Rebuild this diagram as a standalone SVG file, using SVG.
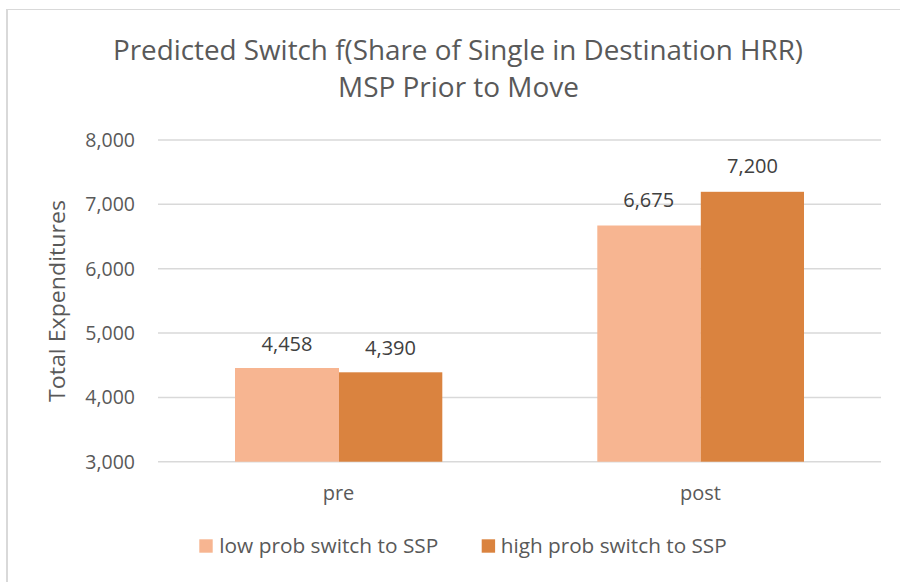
<svg xmlns="http://www.w3.org/2000/svg" width="900" height="582" viewBox="0 0 900 582">
  <style>
    text { font-family: "Open Sans", "Noto Sans", "Liberation Sans", sans-serif; fill: #595959; }
    .title { font-size: 27px; text-anchor: middle; }
    .tick { font-size: 19.5px; text-anchor: end; }
    .cat { font-size: 20px; text-anchor: middle; }
    .val { font-size: 20px; text-anchor: middle; fill: #404040; }
    .leg { font-size: 20px; }
    .grid { stroke: #D9D9D9; stroke-width: 1.5; }
    .low { fill: #F7B591; }
    .high { fill: #DA833F; }
  </style>

  <rect width="900" height="582" fill="#FFFFFF"/>
  <!-- chart frame (left and top edges) -->
  <line x1="7" y1="9.5" x2="900" y2="9.5" stroke="#D9D9D9" stroke-width="1.2"/>
  <line x1="7" y1="9" x2="7" y2="582" stroke="#D9D9D9" stroke-width="2"/>

  <!-- title -->
  <g id="title">
    <text class="title" x="458" y="60" textLength="690" lengthAdjust="spacingAndGlyphs">Predicted Switch f(Share of Single in Destination HRR)</text>
    <text class="title" x="458.5" y="97" textLength="241" lengthAdjust="spacingAndGlyphs">MSP Prior to Move</text>
  </g>

  <!-- gridlines -->
  <g id="gridlines">
    <line class="grid" x1="158" y1="140" x2="881" y2="140"/>
    <line class="grid" x1="158" y1="204.3" x2="881" y2="204.3"/>
    <line class="grid" x1="158" y1="268.7" x2="881" y2="268.7"/>
    <line class="grid" x1="158" y1="333" x2="881" y2="333"/>
    <line class="grid" x1="158" y1="397.4" x2="881" y2="397.4"/>
    <line class="grid" x1="158" y1="461.7" x2="881" y2="461.7"/>
  </g>

  <!-- value axis -->
  <g id="value-axis">
    <text class="tick" x="135" y="147">8,000</text>
    <text class="tick" x="135" y="211.3">7,000</text>
    <text class="tick" x="135" y="275.7">6,000</text>
    <text class="tick" x="135" y="340">5,000</text>
    <text class="tick" x="135" y="404.4">4,000</text>
    <text class="tick" x="135" y="468.7">3,000</text>
    <text x="65" y="301" font-size="21" text-anchor="middle" transform="rotate(-90 65 301)" textLength="202" lengthAdjust="spacingAndGlyphs">Total Expenditures</text>
  </g>

  <!-- bars -->
  <g id="bar-pre-low">
    <rect class="low" x="235" y="368" width="104" height="93.7"/>
    <text class="val" x="287" y="350.5">4,458</text>
  </g>
  <g id="bar-pre-high">
    <rect class="high" x="339" y="372.3" width="103.3" height="89.4"/>
    <text class="val" x="390.5" y="354.5">4,390</text>
  </g>
  <g id="bar-post-low">
    <rect class="low" x="597.3" y="225.5" width="103.5" height="236.2"/>
    <text class="val" x="648.7" y="207">6,675</text>
  </g>
  <g id="bar-post-high">
    <rect class="high" x="700.8" y="191.8" width="103.2" height="269.9"/>
    <text class="val" x="752.5" y="173">7,200</text>
  </g>

  <!-- category axis -->
  <g id="category-axis">
    <text class="cat" x="338.5" y="499.5">pre</text>
    <text class="cat" x="700.5" y="499.5">post</text>
  </g>

  <!-- legend -->
  <g id="legend-low">
    <rect class="low" x="199.3" y="539.3" width="13.4" height="13.4"/>
    <text class="leg" x="219.3" y="553" textLength="219" lengthAdjust="spacingAndGlyphs">low prob switch to SSP</text>
  </g>
  <g id="legend-high">
    <rect class="high" x="481.7" y="539.3" width="13.4" height="13.4"/>
    <text class="leg" x="500.7" y="553" textLength="226" lengthAdjust="spacingAndGlyphs">high prob switch to SSP</text>
  </g>
</svg>
